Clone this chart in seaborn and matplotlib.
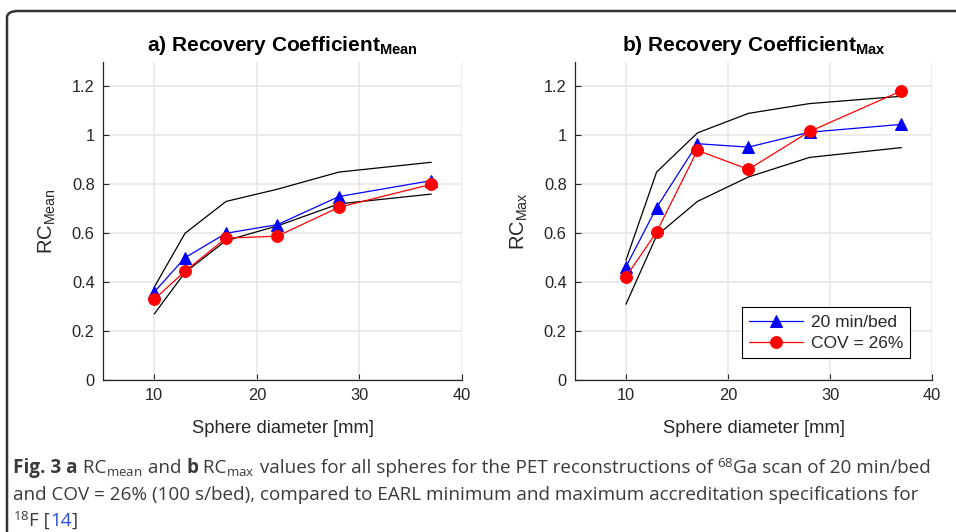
import numpy as np
import pandas as pd
import matplotlib
matplotlib.use("Agg")
import matplotlib.pyplot as plt
import seaborn as sns
from matplotlib.patches import FancyBboxPatch
from matplotlib.ticker import FixedLocator, FuncFormatter

# ---------------- data ----------------
sphere_diam = [10, 13, 17, 22, 28, 37]

rc_mean_20min = [0.36, 0.50, 0.60, 0.635, 0.75, 0.815]
rc_mean_cov26 = [0.33, 0.445, 0.58, 0.588, 0.706, 0.80]
earl_mean_min = [0.27, 0.44, 0.57, 0.63, 0.72, 0.76]
earl_mean_max = [0.38, 0.60, 0.73, 0.78, 0.85, 0.89]

rc_max_20min = [0.463, 0.705, 0.966, 0.952, 1.013, 1.045]
rc_max_cov26 = [0.422, 0.605, 0.939, 0.861, 1.016, 1.182]
earl_max_min = [0.31, 0.59, 0.73, 0.83, 0.91, 0.95]
earl_max_max = [0.49, 0.85, 1.01, 1.09, 1.13, 1.16]

series_labels = ["20 min/bed", "COV = 26%"]
x_ticks = [10, 20, 30, 40]
y_ticks = [0, 0.2, 0.4, 0.6, 0.8, 1.0, 1.2]
titles = [r"a) Recovery Coefficient$_\mathregular{Mean}$",
          r"b) Recovery Coefficient$_\mathregular{Max}$"]
ylabels = [r"RC$_\mathregular{Mean}$", r"RC$_\mathregular{Max}$"]
xlabel = "Sphere diameter [mm]"

# ---------------- style ----------------
sns.set_style("white")
plt.rcParams["font.family"] = ["Liberation Sans", "DejaVu Sans"]
plt.rcParams["mathtext.fontset"] = "custom"
plt.rcParams["mathtext.rm"] = "Open Sans"
plt.rcParams["mathtext.bf"] = "Open Sans:bold"
plt.rcParams["mathtext.it"] = "Open Sans:italic"

W, H = 956, 532
fig = plt.figure(figsize=(W / 100, H / 100), dpi=100)

def px_axes(x0, y0, x1, y1):
    return fig.add_axes([x0 / W, 1 - y1 / H, (x1 - x0) / W, (y1 - y0) / H])

ax_a = px_axes(103, 62, 462, 380)
ax_b = px_axes(575, 62, 932, 380)

TXT = "#262626"
panels = [
    (ax_a, rc_mean_20min, rc_mean_cov26, earl_mean_min, earl_mean_max),
    (ax_b, rc_max_20min, rc_max_cov26, earl_max_min, earl_max_max),
]

for i, (ax, s1, s2, lo, hi) in enumerate(panels):
    df = pd.DataFrame({"d": sphere_diam, "s1": s1, "s2": s2, "lo": lo, "hi": hi})
    sns.lineplot(data=df, x="d", y="lo", ax=ax, color="black", linewidth=0.9, zorder=2)
    sns.lineplot(data=df, x="d", y="hi", ax=ax, color="black", linewidth=0.9, zorder=2)
    sns.lineplot(data=df, x="d", y="s1", ax=ax, color="blue", linewidth=0.9,
                 marker="^", markersize=9, markeredgecolor="blue",
                 markerfacecolor="blue", zorder=3)
    sns.lineplot(data=df, x="d", y="s2", ax=ax, color="red", linewidth=0.9,
                 marker="o", markersize=8.5, markeredgecolor="red",
                 markerfacecolor="red", zorder=4)

    ax.set_xlim(5, 40)
    ax.set_ylim(0, 1.3)
    ax.xaxis.set_major_locator(FixedLocator(x_ticks))
    ax.yaxis.set_major_locator(FixedLocator(y_ticks))
    ax.yaxis.set_major_formatter(FuncFormatter(lambda v, p: f"{v:g}"))
    ax.grid(True, color="#e6e6e6", linewidth=1.1)
    ax.set_axisbelow(True)
    for sp in ["top", "right"]:
        ax.spines[sp].set_visible(False)
    for sp in ["left", "bottom"]:
        ax.spines[sp].set_color("#262626")
        ax.spines[sp].set_linewidth(0.9)
    ax.tick_params(direction="in", length=4, width=0.8, colors="#262626",
                   labelsize=11.8, labelcolor=TXT, pad=6,
                   left=True, bottom=True)
    ax.set_xlabel(xlabel, fontsize=13.2, color=TXT, labelpad=12)
    ax.set_ylabel(ylabels[i], fontsize=14.5, color=TXT, labelpad=10)
    ax.set_title(titles[i], fontsize=15, fontweight="bold", color="black", pad=8)
    ax.set_facecolor("white")

# legend on panel b
h = [ax_b.lines[2], ax_b.lines[3]]
leg = ax_b.legend(h, series_labels, loc="upper left", bbox_to_anchor=(0.468, 0.228),
                  borderaxespad=0, fancybox=False, framealpha=1, edgecolor="black",
                  fontsize=12.5, handlelength=3.1, handletextpad=0.45,
                  borderpad=0.4, labelspacing=0.38)
leg.get_frame().set_linewidth(0.8)
for t in leg.get_texts():
    t.set_color(TXT)

# frame around figure
frame = FancyBboxPatch((7 / W, -0.2), 1.2, 1 - 11 / H + 0.2,
                       boxstyle="round,pad=0,rounding_size=0.012",
                       transform=fig.transFigure, fill=False,
                       edgecolor="#333333", linewidth=1.8, clip_on=False)
fig.add_artist(frame)

# caption (rich text laid out piece by piece)
CAP = "#3a3a3a"
LINK = "#2a4cd8"
cap_fs = 13.6
renderer = fig.canvas.get_renderer()

def text_width(s, **kw):
    if "$" in s:
        t = fig.text(0, 0, s, **kw)
        w = t.get_window_extent(renderer).width
        t.remove()
        return w + 0.5
    t1 = fig.text(0, 0, "|" + s + "|", **kw)
    t2 = fig.text(0, 0, "||", **kw)
    w = t1.get_window_extent(renderer).width - t2.get_window_extent(renderer).width
    t1.remove(); t2.remove()
    return w

def rich_line(x, y, pieces):
    for s, extra in pieces:
        kw = dict(fontsize=cap_fs, color=CAP, family="Open Sans")
        extra = dict(extra)
        dx = extra.pop("dx", 0)
        kw.update(extra)
        x += dx
        fig.text(x / W, 1 - y / H, s, va="baseline", ha="left", **kw)
        x += text_width(s, **kw)

B = {"fontweight": "bold"}
SUP = {"dx": -1.5}
line1 = [("Fig. 3 a", B), (" RC", {}), (r"$_\mathregular{mean}$", {}), (" and ", {}), ("b", B),
         (" RC", {}), (r"$_\mathregular{max}$", {}),
         (" values for all spheres for the PET reconstructions of ", {}),
         (r"$^\mathregular{68}$", SUP), ("Ga scan of 20 min/bed", {"dx": -1})]
line2 = [("and COV = 26% (100 s/bed), compared to EARL minimum and maximum accreditation specifications for", {})]
line3 = [(r"$^\mathregular{18}$", {"dx": -3}), ("F [", {"dx": -1}), ("14", {"color": LINK}), ("]", {})]

rich_line(13, 473, line1)
rich_line(13, 500, line2)
rich_line(16, 526, line3)

fig.savefig("out.png", dpi=100, facecolor="white")
